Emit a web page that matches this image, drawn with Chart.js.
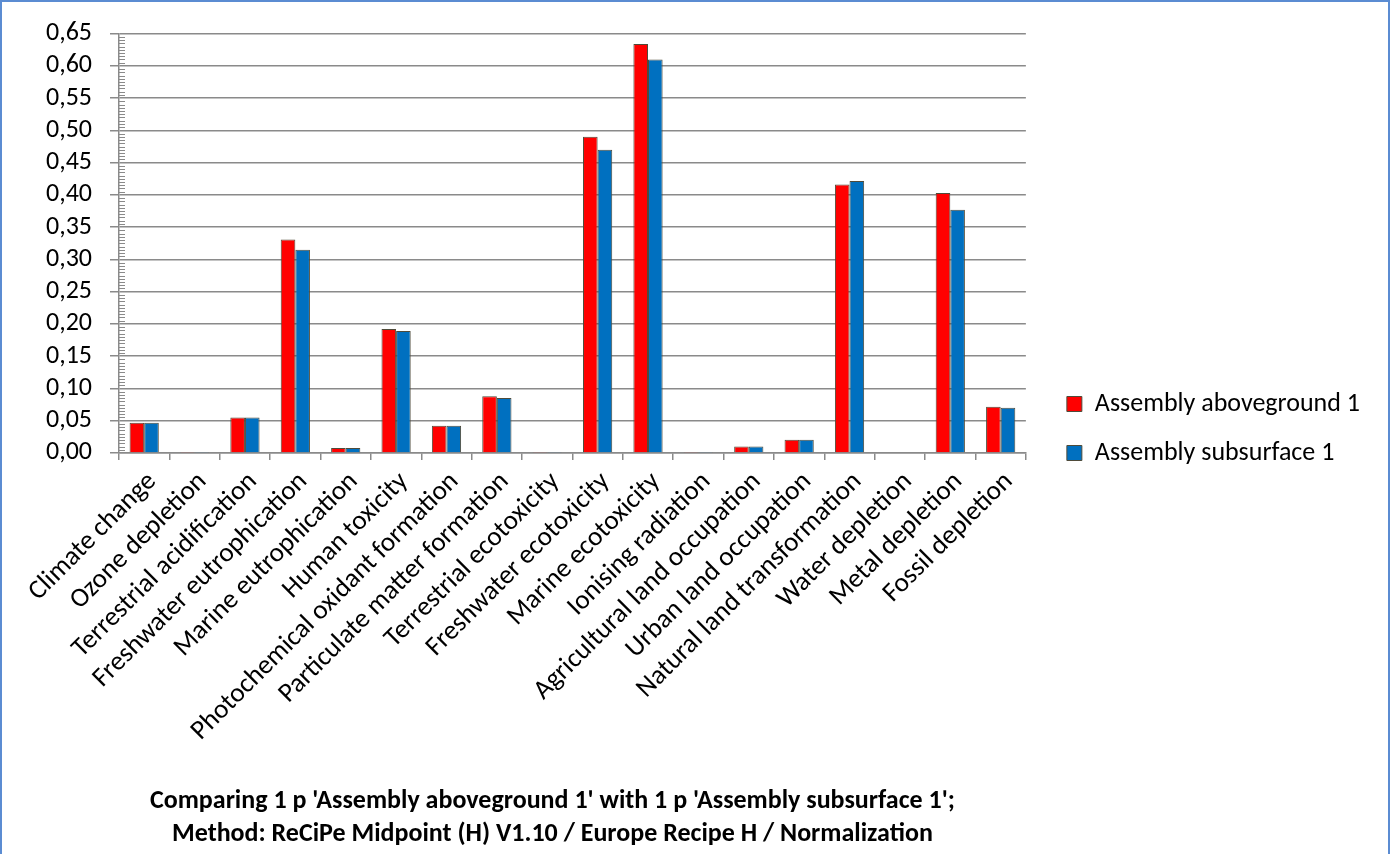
<!DOCTYPE html>
<html>
<head>
<meta charset="utf-8">
<script src="https://cdn.jsdelivr.net/npm/chart.js@4/dist/chart.umd.min.js"></script>
<style>
  html, body { margin: 0; padding: 0; background: #ffffff; overflow: hidden; }
  #wrap { position: absolute; left: 0; top: 0; width: 1399px; height: 854px; }
  #frame { position: absolute; left: 0; top: 0; width: 1386px; height: 900px; border: 2px solid #5b8cd2; pointer-events: none; }
</style>
</head>
<body>
<div id="wrap"><canvas id="c" width="1399" height="854"></canvas></div>
<div id="frame"></div>
<script>
const categories = [
  "Climate change", "Ozone depletion", "Terrestrial acidification", "Freshwater eutrophication",
  "Marine eutrophication", "Human toxicity", "Photochemical oxidant formation",
  "Particulate matter formation", "Terrestrial ecotoxicity", "Freshwater ecotoxicity",
  "Marine ecotoxicity", "Ionising radiation", "Agricultural land occupation",
  "Urban land occupation", "Natural land transformation", "Water depletion",
  "Metal depletion", "Fossil depletion"
];
const aboveground = [0.047, 0.0015, 0.055, 0.331, 0.0077, 0.192, 0.042, 0.088, 0.0015, 0.490, 0.634, 0.0015, 0.0102, 0.0205, 0.416, 0, 0.403, 0.0715];
const subsurface  = [0.047, 0.0015, 0.055, 0.315, 0.0077, 0.189, 0.042, 0.085, 0.0015, 0.470, 0.610, 0.0015, 0.0102, 0.0205, 0.4215, 0, 0.377, 0.070];
const seriesNames = ["Assembly aboveground 1", "Assembly subsurface 1"];
const titleLines = [
  "Comparing 1 p 'Assembly aboveground 1' with 1 p 'Assembly subsurface 1';",
  "Method: ReCiPe Midpoint (H) V1.10 / Europe Recipe H / Normalization"
];
const yMin = 0, yMax = 0.65, yStep = 0.05, yMinorStep = 0.005;

const FONT = "Carlito, Lato, 'Liberation Sans', sans-serif";
const GRID = '#8a8a8a';
const EDGE = '#4f4b3a';

const minorTicks = {
  id: 'minorTicks',
  afterDraw(chart) {
    const y = chart.scales.y, ctx = chart.ctx;
    const x0 = chart.chartArea.left;
    const n = Math.round((yMax - yMin) / yMinorStep);
    ctx.save();
    ctx.strokeStyle = GRID;
    ctx.lineWidth = 1;
    ctx.beginPath();
    for (let i = 0; i <= n; i++) {
      if (i % 10 === 0) continue;
      const py = Math.round(y.getPixelForValue(yMin + i * yMinorStep)) + 0.5;
      ctx.moveTo(x0, py);
      ctx.lineTo(x0 + 6, py);
    }
    ctx.stroke();
    ctx.restore();
  }
};

const placeBoxes = {
  id: 'placeBoxes',
  afterLayout(chart) {
    const lg = chart.legend;
    if (lg) {
      const dx = (chart.chartArea.right + 41) - (lg.left + lg.options.labels.padding);
      lg.left += dx; lg.right += dx;
      const dy = 368 - lg.top;
      lg.top += dy; lg.bottom += dy;
    }
    const tb = chart.titleBlock;
    if (tb) { tb.left -= 20; tb.right -= 20; }
  },
  beforeDraw(chart) {
    const xs = chart.scales.x;
    if (!xs || typeof xs.getLabelItems !== 'function') return;
    const items = xs.getLabelItems(chart.chartArea);
    if (!items || items._shifted) return;
    items.forEach(it => { if (it.options && it.options.translation) it.options.translation[0] += 8; });
    items._shifted = true;
  }
};

Chart.defaults.font.family = FONT;
Chart.defaults.color = '#000000';

new Chart(document.getElementById('c'), {
  type: 'bar',
  data: {
    labels: categories,
    datasets: [
      { label: seriesNames[0], data: aboveground, backgroundColor: '#ff0000', borderColor: EDGE, borderWidth: 1 },
      { label: seriesNames[1], data: subsurface, backgroundColor: '#0070c0', borderColor: EDGE, borderWidth: 1 }
    ]
  },
  options: {
    responsive: false,
    animation: false,
    devicePixelRatio: 1,
    layout: { padding: { top: 32, left: 0, right: 47, bottom: 0 } },
    datasets: { bar: { categoryPercentage: 0.58, barPercentage: 1.0 } },
    plugins: {
      tooltip: { enabled: false },
      legend: {
        position: 'right',
        align: 'start',
        labels: { boxWidth: 15, boxHeight: 15, padding: 23, font: { size: 26 }, color: '#000' }
      },
      title: {
        display: true,
        position: 'bottom',
        fullSize: false,
        text: titleLines,
        font: { size: 26, weight: 'bold', lineHeight: 1.27 },
        color: '#000',
        padding: { top: 15, bottom: 3 }
      }
    },
    scales: {
      x: {
        offset: true,
        grid: { display: true, drawOnChartArea: false, drawTicks: true, tickLength: 7, color: GRID, lineWidth: 1.5, offset: true },
        border: { display: true, color: GRID, width: 1.5 },
        ticks: { minRotation: 45, maxRotation: 45, autoSkip: false, font: { size: 27 }, color: '#000', padding: 6 },
        afterFit(s) { s.height = 317; }
      },
      y: {
        min: yMin, max: yMax,
        grid: { color: GRID, lineWidth: 1.5, tickLength: 9 },
        border: { display: true, color: GRID, width: 1.5 },
        ticks: {
          stepSize: yStep, autoSkip: false, font: { size: 26 }, color: '#000', padding: 18,
          callback: v => v.toFixed(2).replace('.', ',')
        },
        afterFit(s) { s.width = 119; }
      }
    }
  },
  plugins: [minorTicks, placeBoxes]
});
</script>
</body>
</html>
